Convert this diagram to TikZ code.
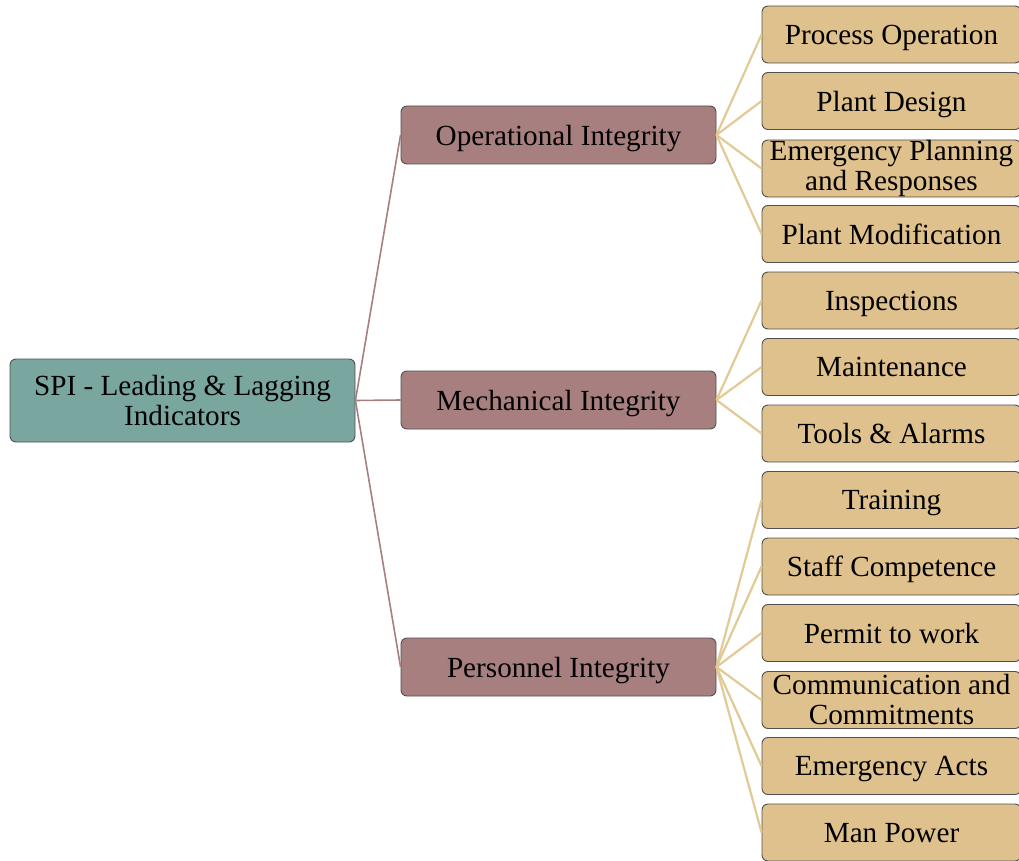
\documentclass[tikz,border=0pt]{standalone}
\usepackage{fontspec}
\setmainfont{Liberation Serif}
\definecolor{rootfill}{RGB}{122,166,160}
\definecolor{midfill}{RGB}{168,127,127}
\definecolor{leaffill}{RGB}{222,193,140}
\definecolor{boxline}{RGB}{80,80,80}
\definecolor{midlink}{RGB}{168,127,127}
\definecolor{leaflink}{RGB}{226,202,150}
\tikzset{
  box/.style={draw=boxline, line width=0.9pt, rounded corners=6pt, align=center,
    inner sep=0pt, font=\fontsize{29.2}{30}\selectfont},
  oneline/.style={text depth=0pt},
  rootbox/.style={box, fill=rootfill, minimum width=345pt, minimum height=83pt},
  midbox/.style={box, oneline, fill=midfill, minimum width=315pt, minimum height=58pt},
  leafbox/.style={box, fill=leaffill, minimum width=259pt, minimum height=57pt},
  midedge/.style={draw=midlink, line width=1.6pt},
  leafedge/.style={draw=leaflink, line width=2.2pt}
}
\begin{document}
\begin{tikzpicture}[x=1pt,y=-1pt]
\useasboundingbox (0,0) rectangle (1019,861);
\clip (0,0) rectangle (1019,861);

% root
\node[rootbox] (root) at (182.5,400.5) {SPI - Leading \& Lagging\\Indicators};

% second level
\node[midbox] (op)  at (558.5,135) {Operational Integrity};
\node[midbox] (mech) at (558.5,400) {Mechanical Integrity};
\node[midbox] (pers) at (558.5,667) {Personnel Integrity};

% leaves
\node[leafbox, oneline] (l1)  at (891.5,34.5)  {Process Operation};
\node[leafbox, oneline] (l2)  at (891.5,101)   {Plant Design};
\node[leafbox]          (l3)  at (891.5,168.5) {Emergency Planning\\and Responses};
\node[leafbox, oneline] (l4)  at (891.5,234)   {Plant Modification};
\node[leafbox, oneline] (l5)  at (891.5,300.5) {Inspections};
\node[leafbox, oneline] (l6)  at (891.5,367)   {Maintenance};
\node[leafbox, oneline] (l7)  at (891.5,433.5) {Tools \& Alarms};
\node[leafbox, oneline] (l8)  at (891.5,500)   {Training};
\node[leafbox, oneline] (l9)  at (891.5,566.5) {Staff Competence};
\node[leafbox, oneline] (l10) at (891.5,633)   {Permit to work};
\node[leafbox]          (l11) at (891.5,700)   {Communication and\\Commitments};
\node[leafbox, oneline] (l12) at (891.5,766)   {Emergency Acts};
\node[leafbox, oneline] (l13) at (891.5,832.5) {Man Power};

% connectors
\foreach \m in {op,mech,pers}
  \draw[midedge] (root.east) -- (\m.west);
\foreach \l in {l1,l2,l3,l4}
  \draw[leafedge] (op.east) -- (\l.west);
\foreach \l in {l5,l6,l7}
  \draw[leafedge] (mech.east) -- (\l.west);
\foreach \l in {l8,l9,l10,l11,l12,l13}
  \draw[leafedge] (pers.east) -- (\l.west);
\end{tikzpicture}
\end{document}
